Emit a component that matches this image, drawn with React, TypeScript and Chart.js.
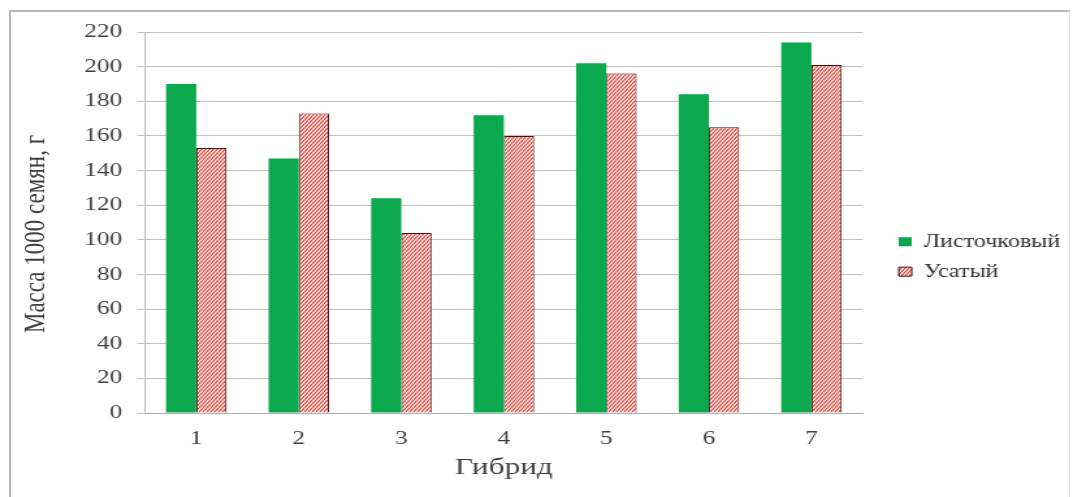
import React, { useEffect, useRef } from 'react';
import { Chart, registerables } from 'chart.js';

Chart.register(...registerables);

// Data
const hybrids = ['1', '2', '3', '4', '5', '6', '7'];
const leafyMass = [190, 147, 124, 172, 202, 184, 214];
const tendrilMass = [153, 173, 104, 160, 196, 165, 201];
const seriesNames = ['Листочковый', 'Усатый'];
const yMin = 0;
const yMax = 220;
const yStep = 20;
const xTitle = 'Гибрид';
const yTitle = 'Масса 1000 семян, г';

// Drawing surface: the chart is drawn narrower and widened horizontally
const W = 825;
const H = 497;
const SX = 1073 / W;
const FONT = '"Liberation Serif", "Times New Roman", serif';
const TEXT = '#404040';
const GRID = '#c0c0c0';

const PLOT_LEFT = 145 / SX;
const PLOT_RIGHT = 850 / SX;
const PLOT_TOP = 32;
const PLOT_BOTTOM = 413;
const LEGEND_BOX_LEFT = 886 / SX;
const PAD_BOTTOM = 15.7;

const LEGEND_FONT = 18.5;
const LEGEND_BOX_W = 10;
const LEGEND_BOX_H = 9;
const LEGEND_PAD = 11.5;

function makeHatch(): CanvasPattern | string {
  const tile = document.createElement('canvas');
  tile.width = 3;
  tile.height = 4;
  const t = tile.getContext('2d');
  if (!t) return '#f08080';
  t.fillStyle = '#ffffff';
  t.fillRect(0, 0, 3, 4);
  t.strokeStyle = '#e5382d';
  t.lineWidth = 1.2;
  for (const k of [-1, 0, 1]) {
    t.beginPath();
    t.moveTo(k * 3, 4);
    t.lineTo(k * 3 + 3, 0);
    t.stroke();
  }
  const probe = document.createElement('canvas').getContext('2d');
  return (probe && probe.createPattern(tile, 'repeat')) || '#f08080';
}

function measure(text: string, size: number): number {
  const c = document.createElement('canvas').getContext('2d');
  if (!c) return text.length * size * 0.5;
  c.font = `${size}px ${FONT}`;
  return c.measureText(text).width;
}

export default function App() {
  const canvasRef = useRef<HTMLCanvasElement | null>(null);

  useEffect(() => {
    const canvas = canvasRef.current;
    if (!canvas) return;

    const longest = Math.max(...seriesNames.map((s) => measure(s, LEGEND_FONT)));
    const legendWidth = LEGEND_PAD + LEGEND_BOX_W + LEGEND_FONT / 2 + longest + 10;
    const legendLeft = LEGEND_BOX_LEFT - LEGEND_PAD;
    const padRight = Math.max(0, W - (legendLeft + legendWidth));
    const gap = legendLeft - PLOT_RIGHT;

    const hatch = makeHatch();

    const chart = new Chart(canvas, {
      type: 'bar',
      data: {
        labels: hybrids,
        datasets: [
          {
            label: seriesNames[0],
            data: leafyMass,
            backgroundColor: '#0ca84e',
            borderWidth: 0,
            categoryPercentage: 0.59,
            barPercentage: 1,
          },
          {
            label: seriesNames[1],
            data: tendrilMass,
            backgroundColor: hatch as any,
            borderColor: '#3a1512',
            borderWidth: 1,
            categoryPercentage: 0.59,
            barPercentage: 1,
          },
        ],
      },
      options: {
        responsive: false,
        animation: false,
        devicePixelRatio: 1,
        layout: {
          padding: { top: PLOT_TOP, bottom: PAD_BOTTOM, left: 0, right: padRight },
        },
        plugins: {
          tooltip: { enabled: false },
          legend: {
            position: 'right',
            align: 'center',
            labels: {
              boxWidth: LEGEND_BOX_W,
              boxHeight: LEGEND_BOX_H,
              padding: LEGEND_PAD,
              color: '#333333',
              font: { family: FONT, size: LEGEND_FONT },
            },
          },
        },
        scales: {
          x: {
            grid: { drawOnChartArea: false, drawTicks: false },
            border: { display: true, color: '#b0b0b0', width: 1 },
            ticks: {
              padding: 14,
              color: TEXT,
              font: { family: FONT, size: 19.5 },
            },
            title: {
              display: true,
              text: xTitle,
              color: TEXT,
              font: { family: FONT, size: 24, lineHeight: 1 },
              padding: { top: 0, bottom: 1.3 },
            },
            afterFit: (scale: any) => {
              scale.height = H - PAD_BOTTOM - PLOT_BOTTOM;
            },
          },
          y: {
            min: yMin,
            max: yMax,
            grid: { color: GRID, lineWidth: 1, tickLength: 6 },
            border: { display: true, color: GRID, width: 1 },
            ticks: {
              stepSize: yStep,
              padding: 11.5,
              color: TEXT,
              font: { family: FONT, size: 19.5 },
            },
            title: {
              display: true,
              text: yTitle + '    ',
              color: TEXT,
              font: { family: FONT, size: 23 },
              padding: { top: 14.6, bottom: 0 },
            },
            afterFit: (scale: any) => {
              scale.width = PLOT_LEFT;
            },
          },
          spacer: {
            type: 'linear',
            position: 'right',
            display: true,
            min: 0,
            max: 1,
            grid: { display: false, drawTicks: false },
            border: { display: false },
            ticks: { display: false },
            afterFit: (scale: any) => {
              scale.width = gap;
            },
          },
        },
      } as any,
    });

    return () => chart.destroy();
  }, []);

  return (
    <div style={{ position: 'fixed', left: 0, top: 0, width: 1073, height: 497, overflow: 'hidden', background: '#ffffff' }}>
      <div
        style={{
          position: 'absolute',
          left: 9,
          top: 10,
          width: 1061,
          height: 600,
          boxSizing: 'border-box',
          borderLeft: '2px solid #b8b8b8',
          borderTop: '2px solid #b8b8b8',
          borderRight: '1px solid #e2e2e2',
        }}
      />
      <div
        style={{
          position: 'absolute',
          left: 0,
          top: 0,
          width: W,
          height: H,
          transform: `scaleX(${SX})`,
          transformOrigin: '0 0',
        }}
      >
        <canvas ref={canvasRef} width={W} height={H} />
      </div>
    </div>
  );
}
